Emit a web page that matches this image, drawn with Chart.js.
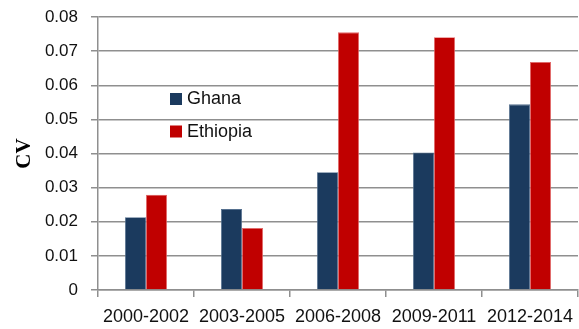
<!DOCTYPE html>
<html>
<head>
<meta charset="utf-8">
<script src="https://cdn.jsdelivr.net/npm/chart.js@4.4.1/dist/chart.umd.min.js"></script>
<style>
  html, body { margin: 0; padding: 0; background: #ffffff; }
  #wrap { width: 579px; height: 329px; position: relative; }
</style>
</head>
<body>
<div id="wrap"><canvas id="cv"></canvas></div>
<script>
// Periods on the x axis
const periods = ['2000-2002', '2003-2005', '2006-2008', '2009-2011', '2012-2014'];
// Coefficient of variation per period
const ghana = [0.0213, 0.0237, 0.0345, 0.0403, 0.0544];
const ethiopia = [0.0279, 0.0182, 0.0755, 0.0741, 0.0668];
// Y axis range and step
const yMin = 0;
const yMax = 0.08;
const yStep = 0.01;

const GRID = '#8f8f8f';
const SANS = '"Liberation Sans", Arial, Helvetica, sans-serif';

// Legend drawn inside the plot area, left of centre
const insideLegend = {
  id: 'insideLegend',
  afterDraw(chart) {
    const ctx = chart.ctx;
    const x0 = 170, y0 = 93, rowGap = 32.5, box = 12;
    ctx.save();
    ctx.font = '18px ' + SANS;
    ctx.textBaseline = 'middle';
    ctx.textAlign = 'left';
    chart.data.datasets.forEach((ds, i) => {
      const y = y0 + i * rowGap;
      ctx.fillStyle = ds.backgroundColor;
      ctx.fillRect(x0, y, box, box);
      ctx.fillStyle = '#111111';
      ctx.fillText(ds.label, x0 + 17, y + box / 2 + 0.5);
    });
    ctx.restore();
  }
};

new Chart(document.getElementById('cv'), {
  type: 'bar',
  data: {
    labels: periods,
    datasets: [
      { label: 'Ghana', data: ghana, backgroundColor: '#1b3a5e', borderColor: '#55708f', borderWidth: 0.8 },
      { label: 'Ethiopia', data: ethiopia, backgroundColor: '#c00000', borderColor: '#e46a6a', borderWidth: 0.8 }
    ]
  },
  options: {
    responsive: true,
    maintainAspectRatio: false,
    animation: false,
    devicePixelRatio: 1,
    layout: { padding: { top: 17, right: 1, bottom: 0, left: 0 } },
    datasets: { bar: { categoryPercentage: 0.4375, barPercentage: 1.0 } },
    plugins: {
      legend: { display: false },
      tooltip: { enabled: false }
    },
    scales: {
      x: {
        offset: true,
        grid: {
          offset: true,
          drawOnChartArea: false,
          drawTicks: true,
          tickLength: 7,
          color: GRID,
          lineWidth: 1.5
        },
        border: { display: true, color: GRID, width: 1.5 },
        ticks: {
          color: '#111111',
          font: { family: SANS, size: 18 },
          padding: 9,
          maxRotation: 0,
          autoSkip: false
        },
        afterFit(scale) {
          scale.height = 39;
          scale.paddingLeft = 0;
          scale.paddingRight = 0;
        }
      },
      y: {
        min: yMin,
        max: yMax,
        grid: {
          drawTicks: true,
          tickLength: 7,
          color: GRID,
          lineWidth: 1.5
        },
        border: { display: true, color: GRID, width: 1.5 },
        ticks: {
          stepSize: yStep,
          color: '#111111',
          font: { family: SANS, size: 17 },
          padding: 13,
          callback: (v) => (Math.abs(v) < 1e-9 ? '0' : Number(v).toFixed(2))
        },
        title: {
          display: true,
          text: 'CV',
          color: '#000000',
          font: { family: '"Liberation Serif", "Times New Roman", serif', size: 21, weight: 'bold' },
          padding: { top: 12, bottom: 0 }
        },
        afterFit(scale) {
          scale.width = 98;
          scale.paddingTop = 0;
          scale.paddingBottom = 0;
        }
      }
    }
  },
  plugins: [insideLegend]
});
</script>
</body>
</html>
